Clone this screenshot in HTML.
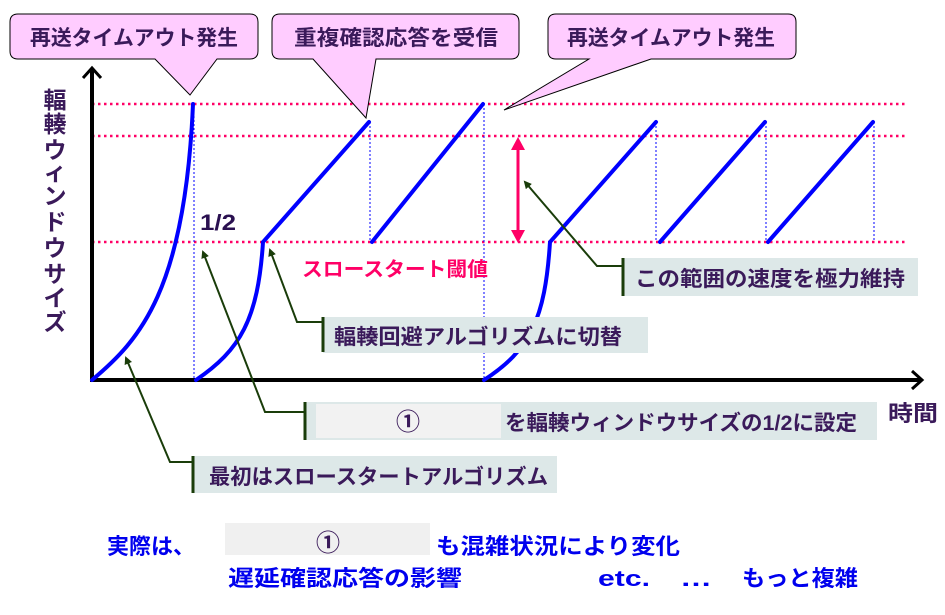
<!DOCTYPE html>
<html><head><meta charset="utf-8"><style>
body{margin:0;background:#fff}
svg{display:block}
text{font-family:"Liberation Sans","Noto Sans CJK JP",sans-serif;font-weight:bold}
</style></head><body>
<svg width="945" height="615" viewBox="0 0 945 615" xmlns="http://www.w3.org/2000/svg">
<defs>
<marker id="ga" markerWidth="8" markerHeight="8" refX="6" refY="4" orient="auto" markerUnits="userSpaceOnUse"><path d="M0,0 L8,4 L0,8 z" fill="#1a3d0a"/></marker>
</defs>
<g stroke="#ff0066" stroke-width="2.5" stroke-dasharray="2.5,3.5">
<line x1="92" y1="104" x2="907" y2="104"/>
<line x1="92" y1="136" x2="907" y2="136"/>
<line x1="92" y1="242" x2="907" y2="242"/>
</g>
<g stroke="#0000ff" stroke-width="1" stroke-dasharray="2,2">
<line x1="194" y1="104" x2="194" y2="380"/>
<line x1="370" y1="122" x2="370" y2="242"/>
<line x1="484" y1="104" x2="484" y2="380"/>
<line x1="656" y1="122" x2="656" y2="242"/>
<line x1="766" y1="122" x2="766" y2="242"/>
<line x1="874" y1="122" x2="874" y2="242"/>
</g>
<g stroke="#000" stroke-width="4" fill="none">
<line x1="92" y1="70" x2="92" y2="382"/>
<line x1="90" y1="380" x2="922" y2="380"/>
<polyline points="83,78 92,68 101,78" stroke-width="3"/>
<polyline points="912,371 922,380 912,389" stroke-width="3"/>
</g>
<g stroke="#0000ff" stroke-width="4" fill="none" stroke-linecap="round">
<path d="M92,380 C140,340 185,290 193,104"/>
<path d="M196,380 C240,350 258,320 263,242 L369,122"/>
<line x1="372" y1="242" x2="483" y2="104"/>
<path d="M484,380 C530,350 545,320 550,242 L656,122"/>
<line x1="660" y1="242" x2="765" y2="122"/>
<line x1="768" y1="242" x2="873" y2="122"/>
</g>
<line x1="518" y1="148" x2="518" y2="232" stroke="#ff0066" stroke-width="3"/>
<path d="M511,150 L518,137 L525,150 z M511,230 L518,243 L525,230 z" fill="#ff0066"/>
<g fill="#ffccff" stroke="#000" stroke-width="1">
<path d="M18,14 H250 Q258,14 258,22 V51 Q258,59 250,59 H217 L190,95 L155,59 H18 Q10,59 10,51 V22 Q10,14 18,14 z"/>
<path d="M280,14 H511 Q519,14 519,22 V51 Q519,59 511,59 H376 L366,118 L313,59 H280 Q272,59 272,51 V22 Q272,14 280,14 z"/>
<path d="M556,14 H788 Q796,14 796,22 V51 Q796,59 788,59 H651 L504,110 L589,59 H556 Q548,59 548,51 V22 Q548,14 556,14 z"/>
</g>
<g font-size="21" fill="#3a1a5a">
<text x="30" y="45" textLength="208" lengthAdjust="spacingAndGlyphs">再送タイムアウト発生</text>
<text x="294" y="45" textLength="204" lengthAdjust="spacingAndGlyphs">重複確認応答を受信</text>
<text x="567" y="45" textLength="208" lengthAdjust="spacingAndGlyphs">再送タイムアウト発生</text>
</g>
<text x="200" y="230" font-size="22" fill="#2a1050" textLength="36" lengthAdjust="spacingAndGlyphs">1/2</text>
<text x="302" y="276" font-size="20" fill="#ff0066" textLength="186" lengthAdjust="spacingAndGlyphs">スロースタート閾値</text>
<g font-size="23" fill="#3a1a5a" text-anchor="middle">
<text x="55" y="108">輻</text><text x="55" y="132">輳</text>
<text x="55" y="158">ウ</text><text x="55" y="180">ィ</text><text x="55" y="204">ン</text>
<text x="55" y="230">ド</text><text x="55" y="256">ウ</text><text x="55" y="282">サ</text>
<text x="55" y="306">イ</text><text x="55" y="330">ズ</text>
</g>
<text x="888" y="421" font-size="22" fill="#3a1a5a" textLength="50" lengthAdjust="spacingAndGlyphs">時間</text>
<g fill="#dde8e8">
<rect x="623" y="258" width="295" height="38"/>
<rect x="323" y="317" width="325" height="36"/>
<rect x="305" y="402" width="572" height="38"/>
<rect x="193" y="456" width="364" height="37"/>
</g>
<rect x="316" y="404" width="185" height="34" fill="#f2f2f2"/>
<g stroke="#1a3d0a" stroke-width="2" fill="none">
<line x1="623" y1="258" x2="623" y2="296" stroke-width="3"/>
<polyline points="623,266 597,266 525,182" marker-end="url(#ga)"/>
<polyline points="323,322 297,322 270,250" marker-end="url(#ga)"/><line x1="323" y1="317" x2="323" y2="352" stroke-width="3"/>
<polyline points="305,412 265,412 203,252" marker-end="url(#ga)"/><line x1="305" y1="402" x2="305" y2="440" stroke-width="3"/>
<polyline points="193,462 170,462 126,358" marker-end="url(#ga)"/><line x1="193" y1="456" x2="193" y2="493" stroke-width="3"/>
</g>
<g font-size="21" fill="#3a1a5a">
<text x="635" y="286" textLength="270" lengthAdjust="spacingAndGlyphs">この範囲の速度を極力維持</text>
<text x="334" y="344" textLength="288" lengthAdjust="spacingAndGlyphs">輻輳回避アルゴリズムに切替</text>
<text x="396" y="430" font-size="24" font-weight="normal">①</text>
<text x="505" y="430" textLength="352" lengthAdjust="spacingAndGlyphs">を輻輳ウィンドウサイズの1/2に設定</text>
<text x="209" y="484" textLength="339" lengthAdjust="spacingAndGlyphs">最初はスロースタートアルゴリズム</text>
</g>
<rect x="225" y="523" width="205" height="32" fill="#f0f0f0"/>
<g font-size="22" fill="#0000ee">
<text x="107" y="554" textLength="88" lengthAdjust="spacingAndGlyphs">実際は、</text>
<text x="436" y="554" textLength="244" lengthAdjust="spacingAndGlyphs">も混雑状況により変化</text>
<text x="228" y="586" textLength="234" lengthAdjust="spacingAndGlyphs">遅延確認応答の影響</text>
<text x="598" y="586" textLength="52" lengthAdjust="spacingAndGlyphs">etc.</text>
<text x="680" y="586" textLength="32" lengthAdjust="spacingAndGlyphs">…</text>
<text x="742" y="586" textLength="116" lengthAdjust="spacingAndGlyphs">もっと複雑</text>
</g>
<text x="316" y="551" font-size="24" fill="#3a1a5a" font-weight="normal">①</text>
</svg>
</body></html>
